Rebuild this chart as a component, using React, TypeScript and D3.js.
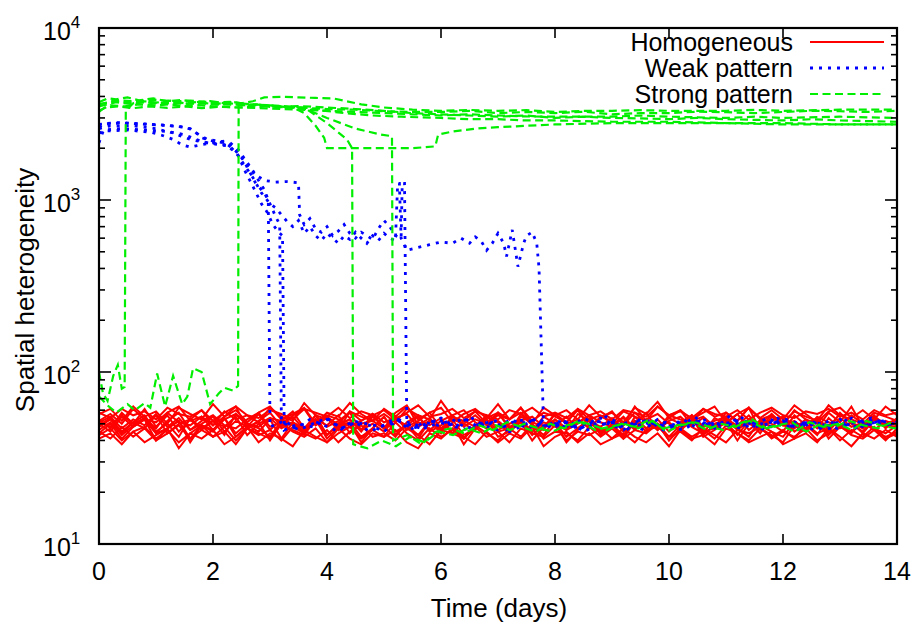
import React from "react";
import * as d3 from "d3";

// ---------- DATA ----------
const xTicks = [0, 2, 4, 6, 8, 10, 12, 14];
const yDecades = [1, 2, 3, 4];
const legendLabels = ["Homogeneous", "Weak pattern", "Strong pattern"];

// Homogeneous (red): values sampled evenly from t=0 to t=14
const red1 = [44,50,41,48,53,40,47,52,39,49,45,54,42,48,51,40,50,46,43,53,41,48,50,39,47,55,43,49,41,52,46,50,38,47,53,42,45,51,40,48,50,39,46,54,43,49,41,52,45,50,40,47,55,42,46,51,40,50,47,43,39,49,45,53,41,48,44,52,46,40,47];
const red2 = [53,47,58,50,61,48,56,45,53,60,49,55,63,47,52,58,48,56,61,49,54,46,59,52,57,47,58,64,49,54,45,56,60,51,47,58,53,62,49,46,57,51,60,48,54,59,49,63,52,46,56,60,49,54,47,58,52,62,46,57,49,60,53,47,58,51,63,48,56,47,54];
const red3 = [48,53,44,51,56,45,50,42,54,47,52,43,57,49,45,53,41,51,47,56,43,50,53,45,55,48,42,51,56,45,49,53,43,47,55,51,44,57,49,43,53,47,51,56,44,50,42,55,47,53,45,51,56,43,49,54,47,42,53,50,45,56,49,43,54,47,51,44,53,49,48];
const red4 = [57,61,52,63,55,59,50,62,57,53,65,55,60,51,58,63,53,57,62,50,58,55,66,57,52,61,55,63,53,58,62,51,57,61,54,65,53,58,50,62,56,60,53,64,55,58,51,62,57,67,54,60,53,58,63,51,57,62,54,60,53,64,57,51,59,62,54,60,53,63,56];
const red5 = [41,44,38,45,39,43,47,36,44,41,46,38,42,48,39,44,41,37,46,42,39,47,41,38,44,42,46,39,36,44,41,47,42,38,45,39,44,41,48,37,42,45,39,44,38,41,47,42,39,44,37,46,41,43,38,47,44,39,42,45,38,41,44,39,47,42,37,44,41,46,42];
const red6 = [50,45,55,48,53,44,52,58,46,50,55,45,52,48,57,46,53,50,44,56,48,52,58,46,50,45,54,57,48,52,44,55,50,46,54,58,48,52,45,55,50,46,57,52,48,54,45,50,58,46,52,55,48,44,54,50,57,46,52,48,55,45,50,54,46,58,50,45,55,48,52];
const red7 = [46,51,43,49,53,44,47,52,41,49,46,54,44,50,47,42,52,49,45,53,43,49,51,42,47,55,45,49,43,52,47,50,41,49,53,45,47,52,43,49,51,42,47,53,45,49,43,52,47,50,42,49,55,45,47,51,43,52,49,45,42,51,47,54,43,49,45,52,47,44,49];
const red8 = [52,57,50,61,53,51,58,63,52,55,49,59,53,56,51,62,55,52,66,56,53,50,59,55,52,57,51,61,56,53,68,55,52,59,50,56,53,62,52,58,55,51,61,53,56,50,59,55,52,63,56,53,51,61,55,58,52,62,53,56,51,59,55,52,64,56,53,50,58,55,52];
const red9 = [45,41,48,42,47,40,44,49,41,46,42,48,40,47,44,41,50,45,42,47,39,44,48,41,46,42,51,44,40,47,42,46,41,49,44,40,47,42,50,41,45,44,40,48,42,47,41,46,44,50,40,47,42,46,41,49,44,40,47,42,46,41,50,44,47,40,46,42,48,41,44];
const red10 = [51,55,47,53,49,57,48,54,46,52,56,49,47,53,58,48,51,55,46,50,56,53,48,52,57,47,53,49,55,46,52,56,48,53,50,58,47,52,55,48,53,46,50,56,51,48,55,47,53,57,50,46,52,55,48,53,49,56,47,52,55,49,46,53,48,57,51,47,55,50,53];
const red11 = [43,47,40,45,48,41,46,39,44,49,42,45,38,47,43,46,40,48,44,41,46,39,45,49,42,44,40,47,43,38,46,44,41,48,42,45,39,47,44,42,49,40,45,43,47,41,44,39,46,48,42,45,40,47,43,39,46,44,48,41,45,42,47,40,44,49,43,41,46,42,45];
const red12 = [58,54,61,56,59,53,62,57,55,60,52,58,63,56,54,60,57,53,61,58,55,62,54,59,56,60,53,58,64,55,57,61,54,59,56,53,60,57,62,55,58,54,61,56,59,53,60,58,55,63,56,59,54,61,57,55,60,53,58,62,56,54,59,57,61,55,58,53,60,56,58];
const red13 = [49,54,45,51,47,56,44,50,53,46,52,48,55,43,50,54,47,51,45,53,49,56,44,50,52,47,55,46,51,49,54,44,52,48,56,46,50,53,45,51,48,55,47,52,44,50,54,46,53,49,51,45,56,48,50,53,46,52,44,55,49,47,53,50,45,54,48,51,46,52,49];
const red14 = [52,48,56,50,54,47,58,51,49,55,46,53,57,50,48,54,52,59,47,51,55,49,53,46,57,51,54,48,52,58,47,53,50,56,49,52,46,55,51,48,57,50,53,47,55,52,49,58,51,47,54,50,56,48,52,55,47,53,50,57,49,52,46,55,51,48,56,50,53,49,52];
const redSeries = [red1, red2, red3, red4, red5, red6, red7, red8, red9, red10, red11, red12, red13, red14];

// Weak pattern (blue): [day, value] head, then noisy tail every 0.25 day from tailStart
const blue1Head = [[0,2650],[0.1,2780],[0.4,2800],[0.8,2760],[1.2,2720],[1.5,2650],[1.65,2550],[1.8,2300],[2.0,2200],[2.2,2150],[2.35,2000],[2.45,1850],[2.6,1600],[2.7,1450],[2.8,1300],[2.9,1150],[2.97,1000]];
const blue1TailStart = 3.0;
const blue1Tail = [48,52,46,50,54,47,51,49,45,53,50,47,52,48,55,49,46,51,53,48,50,47,54,49,51,46,52,50,48,53,47,51,49,55,48,50,52,46,51,49,53,47,50,52,48];
const blue2Head = [[0,2450],[0.1,2520],[0.5,2550],[0.9,2480],[1.1,2380],[1.3,2250],[1.45,2100],[1.6,2030],[1.8,2100],[2.0,2150],[2.2,2200],[2.35,2050],[2.5,1800],[2.6,1550],[2.75,1250],[2.9,1100],[3.0,950],[3.1,800],[3.17,720]];
const blue2TailStart = 3.2;
const blue2Tail = [51,47,53,49,45,52,50,48,54,46,51,49,53,47,50,52,45,49,54,48,51,47,52,50,46,53,49,51,48,55,47,50,52,49,46,53,48,51,50,47,54,49,52,50];
const blue3Head = [[0,2150],[0.08,2550],[0.4,2600],[0.8,2550],[1.2,2500],[1.5,2400],[1.7,2250],[1.9,2150],[2.1,2100],[2.3,2050],[2.45,1800],[2.55,1500],[2.7,1200],[2.85,950],[2.95,850],[3.05,720],[3.15,650],[3.22,620]];
const blue3TailStart = 3.25;
const blue3Tail = [46,50,48,53,47,51,45,49,52,47,50,54,48,46,51,49,53,47,50,48,52,45,49,51,47,53,50,48,46,52,49,51,47,50,54,48,49,52,46,50,48,53,49,51];
const blue4Head = [[0,2750],[0.3,2820],[0.7,2780],[1.1,2720],[1.4,2680],[1.6,2600],[1.75,2400],[1.9,2250],[2.1,2200],[2.3,2150],[2.45,1950],[2.6,1650],[2.75,1400],[2.9,1300],[3.1,1270],[3.3,1280],[3.5,1260],[3.52,820],[3.6,720],[3.7,780],[3.8,680],[3.9,650],[4.0,700],[4.1,620],[4.2,660],[4.3,720],[4.4,640],[4.5,600],[4.6,650],[4.7,620],[4.8,590],[4.9,680],[5.0,760],[5.1,700],[5.2,620],[5.3,600],[5.32,1250],[5.36,1250]];
const blue4TailStart = 5.4;
const blue4Tail = [50,47,52,49,54,48,51,46,50,53,48,52,47,49,55,50,48,52,46,51,49,53,47,50,52,48,54,49,51,47,50,53,48,51,49];
const blue5Head = [[0,2600],[0.2,2700],[0.6,2700],[1.0,2600],[1.3,2450],[1.6,2250],[1.9,2150],[2.2,2100],[2.4,1900],[2.55,1600],[2.7,1350],[2.85,1100],[3.0,950],[3.1,900],[3.2,820],[3.3,750],[3.4,700],[3.5,760],[3.6,640],[3.7,700],[3.8,620],[3.9,580],[4.0,640],[4.1,600],[4.2,560],[4.3,620],[4.4,590],[4.5,650],[4.6,600],[4.7,560],[4.8,620],[4.9,580],[5.0,640],[5.1,600],[5.2,580],[5.24,1250],[5.27,1250],[5.3,600],[5.4,510],[5.6,530],[5.8,550],[6.0,570],[6.2,560],[6.35,600],[6.5,560],[6.6,610],[6.7,580],[6.8,510],[6.9,560],[7.0,640],[7.1,560],[7.15,470],[7.25,670],[7.35,410],[7.45,560],[7.5,620],[7.6,650],[7.68,560],[7.72,400]];
const blue5TailStart = 7.8;
const blue5Tail = [48,52,47,50,54,49,51,46,53,48,50,52,47,55,49,51,48,53,50,46,52,49,51,54,50];

// Strong pattern (green)
const green1 = [[0,100],[0.07,75],[0.15,68],[0.25,95],[0.33,110],[0.4,80],[0.45,82],[0.47,3300],[0.6,3650],[0.8,3750],[1,3680],[1.25,3780],[1.5,3650],[1.75,3720],[2,3600],[2.25,3680],[2.5,3550],[2.75,3600],[3,3480],[3.5,3450],[4,3380],[4.5,3350],[5,3280],[5.5,3250],[6,3250],[6.5,3300],[7,3200],[7.5,3250],[8,3200],[8.5,3260],[9,3150],[9.5,3200],[10,3200],[10.5,3260],[11,3240],[11.5,3200],[12,3250],[12.5,3300],[13,3280],[13.5,3250],[14,3300]];
const green2 = [[0,72],[0.15,64],[0.3,58],[0.5,65],[0.63,60],[0.8,66],[0.9,62],[1.02,98],[1.16,63],[1.3,95],[1.46,65],[1.55,72],[1.65,105],[1.8,100],[1.95,65],[2.1,75],[2.2,81],[2.35,78],[2.44,83],[2.45,3650],[2.7,3600],[3,3550],[3.25,3480],[3.5,3520],[4,3450],[4.5,3380],[5,3300],[5.5,3200],[6,3150],[6.5,3100],[7,3050],[7.5,3100],[8,3000],[8.5,3050],[9,3000],[9.5,2980],[10,2950],[10.5,3000],[11,2950],[12,2900],[12.5,2950],[13,2900],[14,2850]];
const green3Head = [[0,3700],[0.15,3900],[0.3,3850],[0.5,3950],[0.7,3800],[0.95,3900],[1.2,3750],[1.45,3820],[1.7,3700],[1.95,3760],[2.2,3650],[2.4,3700],[2.6,3600],[3.0,3550],[3.3,3500],[3.6,3450],[4.0,2800],[4.35,2250],[4.44,2000]];
const green3TailStart = 4.46;
const green3Tail = [38,36,40,37,42,39,45,43,47,44,49,46,50,47,45,49,51,46,48,50,47,52,45,49,51,48,46,50,53,47,49,45,51,48,50,46,52,49,47,51];
const green4Head = [[0,3600],[0.3,3750],[0.55,3680],[0.8,3750],[1.05,3650],[1.3,3700],[1.55,3620],[1.8,3650],[2.05,3580],[2.3,3600],[2.8,3550],[3.2,3500],[3.6,3400],[4.0,3000],[4.5,2600],[4.95,2400],[5.14,2350]];
const green4TailStart = 5.16;
const green4Tail = [40,43,38,45,47,44,49,46,51,48,45,50,47,52,49,46,50,48,53,47,49,51,46,50,48,52,47,49,51,45,50,48,52,49,47,51,48];
const green5 = [[0,3250],[0.1,3450],[0.35,3500],[0.6,3420],[0.9,3500],[1.2,3430],[1.5,3500],[1.8,3420],[2.1,3480],[2.4,3450],[3.0,3500],[3.4,3450],[3.6,3200],[3.8,2700],[3.95,2300],[4.0,2000],[4.5,2000],[5,2000],[5.5,2000],[5.9,2050],[5.95,2400],[6.2,2500],[6.6,2600],[7,2650],[7.5,2700],[8,2750],[9,2800],[10,2800],[11,2800],[12,2750],[13,2750],[14,2750]];
const green6 = [[0,3600],[0.3,3800],[0.6,3750],[1,3820],[1.3,3750],[1.6,3780],[2,3700],[2.3,3720],[2.5,3650],[2.7,3750],[2.9,3950],[3.2,3980],[3.5,3950],[3.8,3920],[4.1,3900],[4.6,3600],[5.0,3450],[5.5,3350],[6,3300],[6.5,3340],[7,3300],[7.5,3330],[8,3250],[8.5,3300],[9,3300],[9.5,3330],[10,3300],[11,3300],[11.5,3340],[12,3300],[13,3350],[14,3350]];
const green7 = [[0,3300],[0.2,3550],[0.45,3500],[0.7,3600],[1,3550],[1.25,3600],[1.5,3500],[1.75,3560],[2,3500],[2.5,3450],[3,3400],[3.5,3350],[4,3300],[4.5,3250],[5,3200],[5.5,3150],[6,3100],[6.5,3150],[7,3100],[7.5,3060],[8,3050],[9,3050],[9.5,3100],[10,3050],[11,3000],[11.5,3050],[12,3000],[13,3050],[14,3000]];
const green8 = [[0,3500],[0.3,3700],[0.55,3620],[0.8,3700],[1.05,3630],[1.3,3650],[1.8,3650],[2.3,3600],[2.8,3550],[3.3,3450],[3.8,3350],[4.3,3200],[4.8,3100],[5.3,3050],[6,3000],[6.5,2950],[7,2950],[7.5,2900],[8,2900],[9,2850],[10,2850],[11,2800],[12,2800],[13,2750],[14,2750]];

// ---------- HELPERS ----------
type P = [number, number];
function withTail(head: number[][], start: number, tail: number[]): P[] {
  const pts: P[] = head.map((d) => [d[0], d[1]] as P);
  tail.forEach((v, i) => pts.push([start + i * 0.25, v]));
  return pts;
}
function evenly(vals: number[]): P[] {
  return vals.map((v, i) => [(i * 14) / (vals.length - 1), v] as P);
}

const W = 919, H = 622;
const L = 99, R = 897, T = 28, B = 544;
const FONT = "'Liberation Sans', Arial, sans-serif";
const RED = "#ff0000", BLUE = "#0000ff", GREEN = "#00ee00";
const BLUE_DASH = "3,6";
const GREEN_DASH = "8,4.5";

export default function App() {
  const x = d3.scaleLinear().domain([0, 14]).range([L, R]);
  const y = d3.scaleLog().domain([10, 10000]).range([B, T]);
  const line = d3.line<P>().x((d) => x(d[0])).y((d) => y(d[1]));

  const blueSeries: P[][] = [
    withTail(blue1Head, blue1TailStart, blue1Tail),
    withTail(blue2Head, blue2TailStart, blue2Tail),
    withTail(blue3Head, blue3TailStart, blue3Tail),
    withTail(blue4Head, blue4TailStart, blue4Tail),
    withTail(blue5Head, blue5TailStart, blue5Tail),
  ];
  const greenSeries: P[][] = [
    green1.map((d) => [d[0], d[1]] as P),
    green2.map((d) => [d[0], d[1]] as P),
    withTail(green3Head, green3TailStart, green3Tail),
    withTail(green4Head, green4TailStart, green4Tail),
    green5.map((d) => [d[0], d[1]] as P),
    green6.map((d) => [d[0], d[1]] as P),
    green7.map((d) => [d[0], d[1]] as P),
    green8.map((d) => [d[0], d[1]] as P),
  ];
  const reds = redSeries.map(evenly);

  const minorY: number[] = [];
  [10, 100, 1000].forEach((d) => {
    for (let k = 2; k <= 9; k++) minorY.push(d * k);
  });

  const fs = 25;
  const fsTitle = 26;

  return (
    <svg width={W} height={H} style={{ position: "absolute", left: 0, top: 0, background: "#fff" }} fontFamily={FONT}>
      <rect x={0} y={0} width={W} height={H} fill="#fff" />
      <defs>
        <clipPath id="plot">
          <rect x={L} y={T} width={R - L} height={B - T} />
        </clipPath>
      </defs>
      <g clipPath="url(#plot)" fill="none" strokeLinejoin="miter">
        {reds.map((s, i) => (
          <path key={"r" + i} d={line(s) || ""} stroke={RED} strokeWidth={2} />
        ))}
        {blueSeries.map((s, i) => (
          <path key={"b" + i} d={line(s) || ""} stroke={BLUE} strokeWidth={2.8} strokeDasharray={BLUE_DASH} />
        ))}
        {greenSeries.map((s, i) => (
          <path key={"g" + i} d={line(s) || ""} stroke={GREEN} strokeWidth={2.2} strokeDasharray={GREEN_DASH} />
        ))}
      </g>
      {/* ticks */}
      <g stroke="#000" strokeWidth={1.6}>
        {xTicks.map((t) => (
          <g key={"xt" + t}>
            <line x1={x(t)} x2={x(t)} y1={B} y2={B - 10} />
            <line x1={x(t)} x2={x(t)} y1={T} y2={T + 10} />
          </g>
        ))}
        {yDecades.map((e) => (
          <g key={"yt" + e}>
            <line x1={L} x2={L + 12} y1={y(Math.pow(10, e))} y2={y(Math.pow(10, e))} />
            <line x1={R} x2={R - 12} y1={y(Math.pow(10, e))} y2={y(Math.pow(10, e))} />
          </g>
        ))}
        {minorY.map((v) => (
          <g key={"ym" + v}>
            <line x1={L} x2={L + 6} y1={y(v)} y2={y(v)} />
            <line x1={R} x2={R - 6} y1={y(v)} y2={y(v)} />
          </g>
        ))}
      </g>
      <rect x={L} y={T} width={R - L} height={B - T} fill="none" stroke="#000" strokeWidth={2.2} />
      {/* x tick labels */}
      {xTicks.map((t) => (
        <text key={"xl" + t} x={x(t)} y={580} fontSize={fs} textAnchor="middle" fill="#000">
          {t}
        </text>
      ))}
      {/* y tick labels */}
      {yDecades.map((e) => (
        <text key={"yl" + e} x={43} y={y(Math.pow(10, e)) + 12} fontSize={fs} fill="#000">
          10
          <tspan dy={-12} fontSize={17}>{e}</tspan>
        </text>
      ))}
      <text x={499} y={617} fontSize={fsTitle} textAnchor="middle" fill="#000">
        Time (days)
      </text>
      <text transform={`translate(34,290) rotate(-90)`} fontSize={fsTitle} textAnchor="middle" fill="#000">
        Spatial heterogeneity
      </text>
      {/* legend */}
      {legendLabels.map((lab, i) => {
        const ly = 42 + i * 26;
        const st = [RED, BLUE, GREEN][i];
        const da = [undefined, BLUE_DASH, GREEN_DASH][i];
        const sw = [2, 2.8, 2.2][i];
        return (
          <g key={"lg" + i}>
            <text x={793} y={ly + 9} fontSize={fs} textAnchor="end" fill="#000">
              {lab}
            </text>
            <line x1={810} x2={884} y1={ly} y2={ly} stroke={st} strokeWidth={sw} strokeDasharray={da} />
          </g>
        );
      })}
    </svg>
  );
}
